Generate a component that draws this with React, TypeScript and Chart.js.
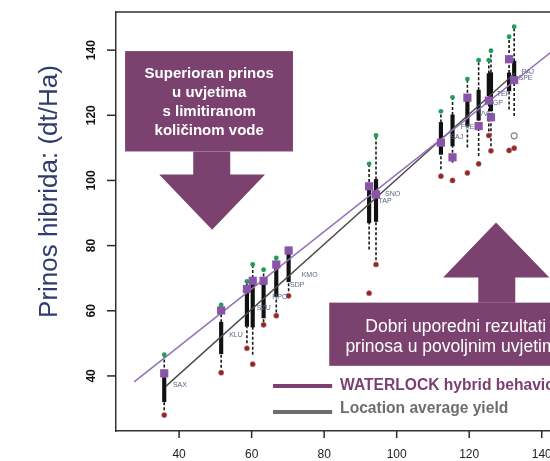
import { useEffect, useRef } from "react";
import { Chart, registerables } from "chart.js";

Chart.register(...registerables);

// ---- Data ----
const locX = [35.9, 51.6, 58.7, 60.3, 63.3, 66.8, 70.2, 92.4, 94.3, 112.2, 115.4, 119.5, 122.6, 125.4, 126.0, 131.0, 132.4];
const minYield = [28.0, 41.0, 48.5, 43.6, 55.7, 58.5, 64.6, 65.4, 74.2, 101.3, 100.0, 102.3, 105.1, 113.8, 109.1, 109.2, 109.9];
const lowWhisker = [29.5, 42.5, 50.0, 46.5, 56.5, 59.5, 66.0, 78.8, 75.5, 103.4, 105.4, 110.1, 107.5, 115.0, 110.5, 121.8, 119.8];
const q1 = [32.1, 46.8, 55.2, 55.0, 57.8, 64.4, 68.9, 87.0, 87.4, 108.0, 110.6, 116.7, 118.5, 126.0, 121.4, 127.5, 129.7];
const q3 = [39.5, 56.5, 66.0, 68.5, 69.0, 74.0, 78.0, 98.0, 100.3, 117.8, 120.1, 125.4, 127.7, 132.8, 133.1, 133.0, 136.6];
const maxYield = [46.5, 61.8, 69.0, 74.2, 72.6, 76.2, 79.0, 105.1, 113.8, 121.2, 125.5, 131.1, 136.9, 136.9, 139.8, 144.1, 147.2];
const waterlock = [40.8, 60.1, 66.7, 69.2, 69.2, 74.2, 78.5, 98.2, 95.7, 111.6, 107.1, 125.4, 116.7, 124.5, 119.4, 137.2, 130.8];

const openOutlierX = [132.4];
const openOutlierY = [113.7];

const wlkLineX = [27.6, 150];
const wlkLineY = [38.2, 145.9];
const avgLineX = [36.3, 132.5];
const avgLineY = [36.8, 132.8];

const siteCodes = ["SAX", "KLU", "SZU", "RPO", "SDP", "KMO", "TAP", "SNO", "SAJ", "FKE", "VVR", "GP", "TEF", "SPE", "PAJ"];
const siteCodeX = [38.3, 53.8, 61.4, 65.7, 70.6, 73.8, 95.0, 96.8, 114.8, 117.7, 122.6, 126.5, 127.6, 133.6, 134.5];
const siteCodeY = [37.2, 52.4, 60.8, 64.2, 67.8, 71.1, 93.6, 95.7, 113.4, 116.4, 120.3, 123.6, 126.5, 131.4, 133.3];

const xTicks = [40, 60, 80, 100, 120, 140];
const yTicks = [40, 60, 80, 100, 120, 140];

const yTitle = "Prinos hibrida: (dt/Ha)";
const topArrowText = ["Superioran prinos", "u uvjetima", "s limitiranom", "količinom vode"];
const bottomArrowText = ["Dobri uporedni rezultati", "prinosa u povoljnim uvjetima"];
const legendLabels = ["WATERLOCK hybrid behavior", "Location average yield"];

const FONT = "'Liberation Sans', Arial, sans-serif";
const ARROW = "#7b426f";

const decorPlugin = {
  id: "decor",
  afterDatasetsDraw(chart: any) {
    const { ctx, chartArea, scales } = chart;
    const xs = scales.x;
    const ys = scales.y;
    const X = (v: number) => xs.getPixelForValue(v);
    const Y = (v: number) => ys.getPixelForValue(v);
    ctx.save();
    ctx.beginPath();
    ctx.rect(chartArea.left, chartArea.top, chartArea.right - chartArea.left, chartArea.bottom - chartArea.top);
    ctx.clip();
    ctx.font = `7px ${FONT}`;
    ctx.fillStyle = "#5a6688";
    ctx.textAlign = "left";
    ctx.textBaseline = "middle";
    siteCodes.forEach((t, i) => ctx.fillText(t, X(siteCodeX[i]), Y(siteCodeY[i])));
    ctx.restore();
  },
  afterDraw(chart: any) {
    const { ctx, chartArea, scales } = chart;
    const xs = scales.x;
    const ys = scales.y;
    const X = (v: number) => xs.getPixelForValue(v);
    const Y = (v: number) => ys.getPixelForValue(v);
    const L = chartArea.left;
    const B = chartArea.bottom;
    ctx.save();
    ctx.setLineDash([]);

    // frame (top & right)
    ctx.strokeStyle = "#333";
    ctx.lineWidth = 1.5;
    ctx.beginPath();
    ctx.moveTo(L, chartArea.top);
    ctx.lineTo(chartArea.right, chartArea.top);
    ctx.lineTo(chartArea.right, B);
    ctx.stroke();

    // tick marks
    ctx.fillStyle = "#2a2a2a";
    xTicks.forEach((v) => {
      const px = X(v);
      ctx.fillRect(px - 0.75, B, 1.5, 7);
    });
    yTicks.forEach((v) => {
      const py = Y(v);
      ctx.fillRect(L - 9, py - 0.75, 9, 1.5);
    });

    // rotated y tick labels
    ctx.fillStyle = "#111";
    ctx.font = `bold 12px ${FONT}`;
    ctx.textAlign = "center";
    ctx.textBaseline = "middle";
    yTicks.forEach((v) => {
      ctx.save();
      ctx.translate(L - 24, Y(v));
      ctx.rotate(-Math.PI / 2);
      ctx.fillText(String(v), 0, 0);
      ctx.restore();
    });

    // y title
    ctx.save();
    ctx.translate(L - 66, Y(96.6));
    ctx.rotate(-Math.PI / 2);
    ctx.fillStyle = "#2f3b6e";
    ctx.font = `26px ${FONT}`;
    ctx.fillText(yTitle, 0, 0);
    ctx.restore();

    // top-left arrow (down)
    ctx.fillStyle = ARROW;
    ctx.fillRect(X(25.1), Y(139.7), X(71.4) - X(25.1), Y(108.9) - Y(139.7));
    ctx.beginPath();
    ctx.moveTo(X(43.9), Y(108.9));
    ctx.lineTo(X(54.1), Y(108.9));
    ctx.lineTo(X(54.1), Y(101.8));
    ctx.lineTo(X(63.7), Y(101.8));
    ctx.lineTo(X(49.1), Y(84.9));
    ctx.lineTo(X(34.5), Y(101.8));
    ctx.lineTo(X(43.9), Y(101.8));
    ctx.closePath();
    ctx.fill();
    ctx.fillStyle = "#fff";
    ctx.font = `bold 15px ${FONT}`;
    const topLines = [132.6, 126.8, 120.9, 115.1];
    topArrowText.forEach((t, i) => ctx.fillText(t, X(48.3), Y(topLines[i])));

    // bottom-right arrow (up)
    ctx.fillStyle = ARROW;
    ctx.fillRect(X(81.4), Y(62.5), X(151.2) - X(81.4), Y(43.1) - Y(62.5));
    ctx.beginPath();
    ctx.moveTo(X(122.5), Y(62.5));
    ctx.lineTo(X(122.5), Y(70.2));
    ctx.lineTo(X(112.8), Y(70.2));
    ctx.lineTo(X(127.4), Y(87.1));
    ctx.lineTo(X(142.1), Y(70.2));
    ctx.lineTo(X(132.7), Y(70.2));
    ctx.lineTo(X(132.7), Y(62.5));
    ctx.closePath();
    ctx.fill();
    ctx.fillStyle = "#fff";
    ctx.font = `17.5px ${FONT}`;
    const botLines = [55.1, 48.9];
    bottomArrowText.forEach((t, i) => ctx.fillText(t, X(116.3), Y(botLines[i])));

    // legend
    const legColors = ["#7b3f73", "#6e6e6e"];
    const legLineY = [36.9, 28.9];
    const legTextY = [37.1, 29.85];
    ctx.lineWidth = 4;
    ctx.textAlign = "left";
    ctx.font = `bold 15.6px ${FONT}`;
    legendLabels.forEach((t, i) => {
      ctx.strokeStyle = legColors[i];
      ctx.beginPath();
      ctx.moveTo(X(65.9), Y(legLineY[i]));
      ctx.lineTo(X(82.2), Y(legLineY[i]));
      ctx.stroke();
      ctx.fillStyle = legColors[i];
      ctx.fillText(t, X(84.4), Y(legTextY[i]));
    });
    ctx.restore();
  },
};

export default function App() {
  const ref = useRef<HTMLCanvasElement>(null);
  useEffect(() => {
    const canvas = ref.current;
    if (!canvas) return;
    const whiskerData: any[] = [];
    locX.forEach((x, i) => {
      whiskerData.push(
        { x, y: lowWhisker[i] },
        { x, y: q1[i] },
        { x, y: null },
        { x, y: q3[i] },
        { x, y: maxYield[i] },
        { x, y: null }
      );
    });
    const chart = new Chart(canvas, {
      type: "scatter",
      data: {
        datasets: [
          {
            type: "line",
            data: whiskerData,
            borderColor: "#1a1a1a",
            borderWidth: 1.6,
            borderDash: [3, 2],
            pointRadius: 0,
            spanGaps: false,
            order: 6,
          } as any,
          {
            type: "bar",
            data: locX.map((x, i) => ({ x, y: [q1[i], q3[i]] })),
            backgroundColor: "#111",
            barThickness: 3.5,
            order: 5,
          } as any,
          {
            type: "line",
            data: avgLineX.map((x, i) => ({ x, y: avgLineY[i] })),
            borderColor: "#4a4a4a",
            borderWidth: 1.4,
            pointRadius: 0,
            order: 4,
          } as any,
          {
            type: "line",
            data: wlkLineX.map((x, i) => ({ x, y: wlkLineY[i] })),
            borderColor: "#9470b8",
            borderWidth: 1.5,
            pointRadius: 0,
            order: 3,
          } as any,
          {
            data: locX.map((x, i) => ({ x, y: minYield[i] })),
            backgroundColor: "#a51f22",
            borderColor: "rgba(140,140,140,0.55)",
            borderWidth: 1,
            pointRadius: 2.6,
            order: 2,
          },
          {
            data: locX.map((x, i) => ({ x, y: maxYield[i] })),
            backgroundColor: "#1f9e5a",
            borderWidth: 0,
            pointRadius: 2.4,
            order: 2,
          },
          {
            data: openOutlierX.map((x, i) => ({ x, y: openOutlierY[i] })),
            backgroundColor: "#fff",
            borderColor: "#8a8a8a",
            borderWidth: 1.2,
            pointRadius: 3,
            order: 2,
          },
          {
            data: locX.map((x, i) => ({ x, y: waterlock[i] })),
            pointStyle: "rect",
            backgroundColor: "#8a55a8",
            borderWidth: 0,
            pointRadius: 5.8,
            order: 1,
          },
        ],
      },
      options: {
        responsive: false,
        animation: false,
        layout: { padding: { left: 0, right: 22, top: 12, bottom: 0 } },
        plugins: { legend: { display: false }, tooltip: { enabled: false } },
        scales: {
          x: {
            type: "linear",
            min: 22.6,
            max: 150,
            offset: false,
            afterBuildTicks: (s: any) => {
              s.ticks = xTicks.map((v) => ({ value: v }));
            },
            afterFit: (s: any) => {
              s.height = 30;
            },
            grid: { display: true, drawOnChartArea: false, drawTicks: true, tickLength: 7, color: "rgba(0,0,0,0)" },
            border: { display: true, color: "#333", width: 1.5 },
            ticks: { font: { family: FONT, size: 12 }, color: "#222", padding: 9, maxRotation: 0, autoSkip: false },
          },
          y: {
            type: "linear",
            min: 23.1,
            max: 151.7,
            afterBuildTicks: (s: any) => {
              s.ticks = yTicks.map((v) => ({ value: v }));
            },
            afterFit: (s: any) => {
              s.width = 116;
            },
            grid: { display: true, drawOnChartArea: false, drawTicks: true, tickLength: 9, color: "rgba(0,0,0,0)" },
            border: { display: true, color: "#333", width: 1.5 },
            ticks: { font: { family: FONT, size: 12 }, color: "rgba(0,0,0,0)" },
          },
        },
      } as any,
      plugins: [decorPlugin],
    });
    return () => chart.destroy();
  }, []);

  return (
    <div style={{ position: "fixed", left: 0, top: 0, width: 550, height: 461, overflow: "hidden", background: "#fff" }}>
      <canvas ref={ref} width={600} height={461} style={{ display: "block" }} />
    </div>
  );
}
